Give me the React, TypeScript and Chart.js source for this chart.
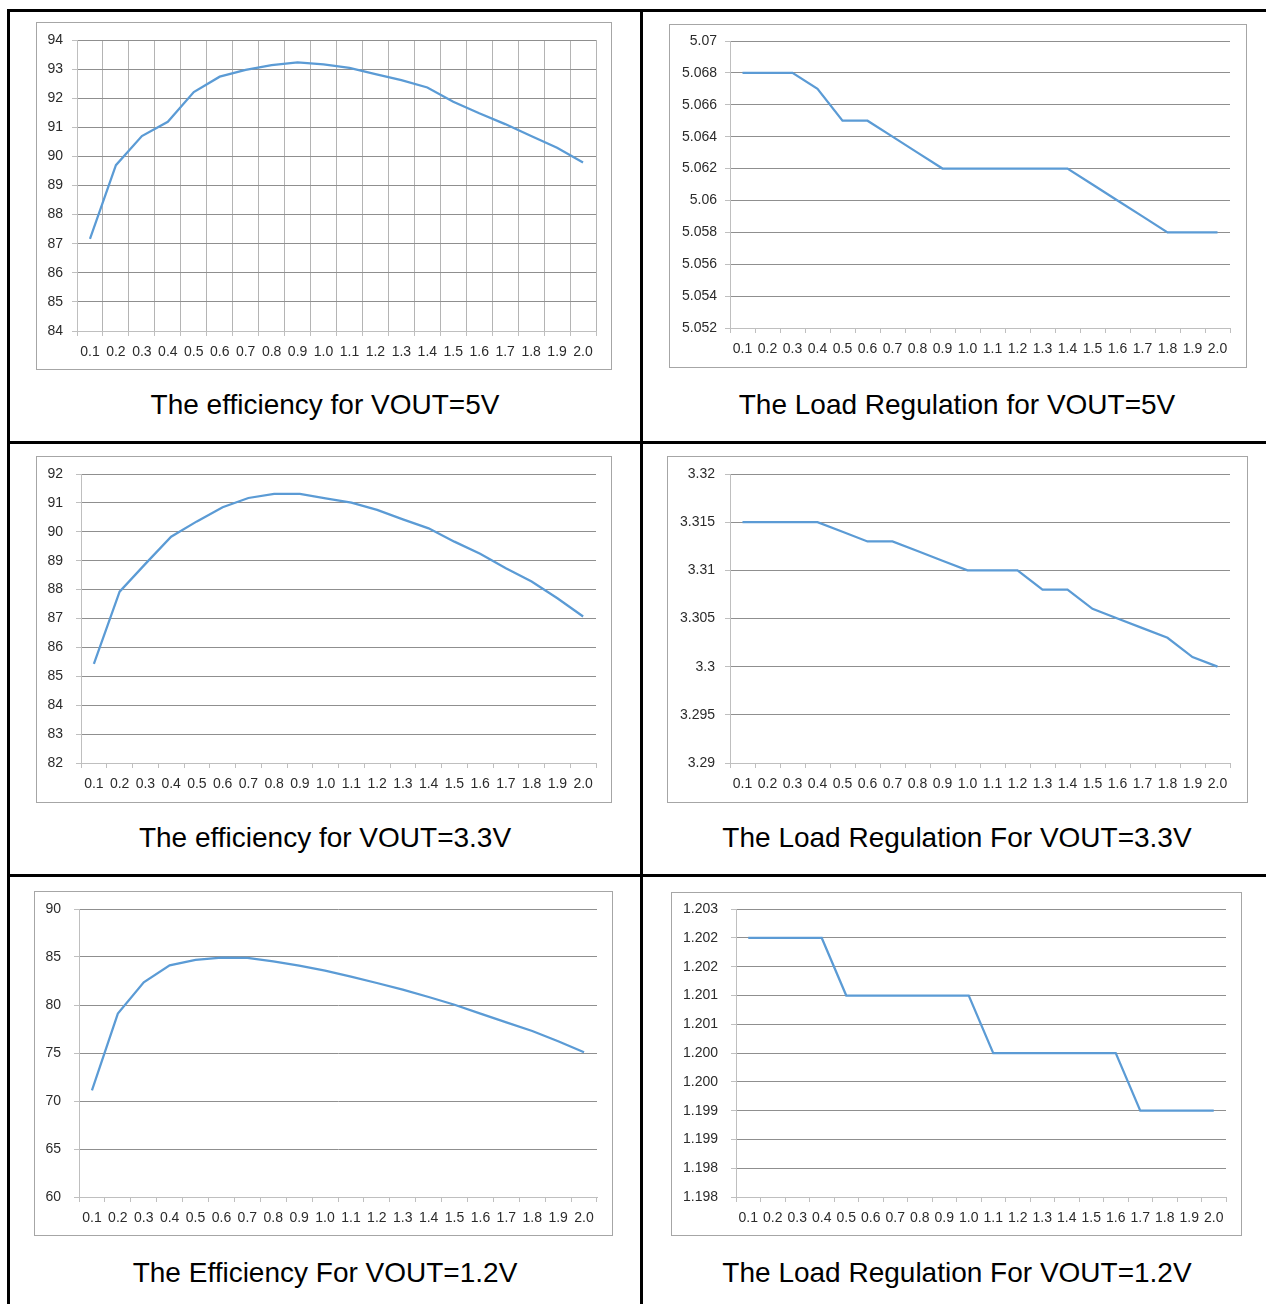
import React, { useEffect, useRef } from 'react';
import { Chart, registerables } from 'chart.js';

Chart.register(...registerables);

const categories = ['0.1', '0.2', '0.3', '0.4', '0.5', '0.6', '0.7', '0.8', '0.9', '1.0', '1.1', '1.2', '1.3', '1.4', '1.5', '1.6', '1.7', '1.8', '1.9', '2.0'];

const eff5V = [87.17, 89.7, 90.7, 91.19, 92.21, 92.74, 92.97, 93.14, 93.23, 93.16, 93.04, 92.83, 92.62, 92.37, 91.88, 91.48, 91.11, 90.7, 90.3, 89.79];
const reg5V = [5.068, 5.068, 5.068, 5.067, 5.065, 5.065, 5.064, 5.063, 5.062, 5.062, 5.062, 5.062, 5.062, 5.062, 5.061, 5.06, 5.059, 5.058, 5.058, 5.058];
const eff33V = [85.43, 87.93, 88.89, 89.83, 90.36, 90.85, 91.17, 91.31, 91.31, 91.16, 91.01, 90.76, 90.43, 90.12, 89.66, 89.24, 88.74, 88.28, 87.7, 87.07];
const reg33V = [3.315, 3.315, 3.315, 3.315, 3.314, 3.313, 3.313, 3.312, 3.311, 3.31, 3.31, 3.31, 3.308, 3.308, 3.306, 3.305, 3.304, 3.303, 3.301, 3.3];
const eff12V = [71.11, 79.1, 82.36, 84.13, 84.69, 84.93, 84.9, 84.55, 84.1, 83.58, 82.95, 82.29, 81.6, 80.83, 80.03, 79.1, 78.19, 77.29, 76.22, 75.07];
const reg12V = [1.2025, 1.2025, 1.2025, 1.2025, 1.2015, 1.2015, 1.2015, 1.2015, 1.2015, 1.2015, 1.2005, 1.2005, 1.2005, 1.2005, 1.2005, 1.2005, 1.1995, 1.1995, 1.1995, 1.1995];

const yTicksEff5V = ['84', '85', '86', '87', '88', '89', '90', '91', '92', '93', '94'];
const yTicksReg5V = ['5.052', '5.054', '5.056', '5.058', '5.06', '5.062', '5.064', '5.066', '5.068', '5.07'];
const yTicksEff33V = ['82', '83', '84', '85', '86', '87', '88', '89', '90', '91', '92'];
const yTicksReg33V = ['3.29', '3.295', '3.3', '3.305', '3.31', '3.315', '3.32'];
const yTicksEff12V = ['60', '65', '70', '75', '80', '85', '90'];
const yTicksReg12V = ['1.198', '1.198', '1.199', '1.199', '1.200', '1.200', '1.201', '1.201', '1.202', '1.202', '1.203'];

const titles = [
  'The efficiency for VOUT=5V',
  'The Load Regulation for VOUT=5V',
  'The efficiency for VOUT=3.3V',
  'The Load Regulation For VOUT=3.3V',
  'The Efficiency For VOUT=1.2V',
  'The Load Regulation For VOUT=1.2V',
];

type Box = { l: number; t: number; r: number; b: number };

interface PanelProps {
  frame: Box;
  plot: Box;
  values: number[];
  yMin: number;
  yMax: number;
  yStep: number;
  yLabels: string[];
  vGrid: boolean;
  yPad: number;
}

const LINE = '#5B9BD5';
const GRID = '#8f8f8f';
const AXIS = '#bfbfbf';
const FONT = "'Liberation Sans', Arial, sans-serif";
const XH = 30;

function Panel({ frame, plot, values, yMin, yMax, yStep, yLabels, vGrid, yPad }: PanelProps) {
  const ref = useRef<HTMLCanvasElement | null>(null);
  const w = frame.r - frame.l;
  const h = frame.b - frame.t;
  useEffect(() => {
    if (!ref.current) return;
    const yW = plot.l - frame.l;
    const chart = new Chart(ref.current, {
      type: 'line',
      data: {
        labels: categories,
        datasets: [
          {
            data: values,
            borderColor: LINE,
            borderWidth: 2.25,
            pointRadius: 0,
            tension: 0,
            fill: false,
          },
        ],
      },
      options: {
        animation: false,
        responsive: false,
        devicePixelRatio: 1,
        layout: {
          padding: {
            left: 0,
            top: plot.t - frame.t,
            right: frame.r - plot.r,
            bottom: frame.b - plot.b - XH,
          },
        },
        plugins: { legend: { display: false }, tooltip: { enabled: false }, title: { display: false } },
        scales: {
          x: {
            type: 'category',
            offset: true,
            afterFit: (s: any) => {
              s.height = XH;
            },
            grid: {
              display: true,
              offset: true,
              drawOnChartArea: vGrid,
              drawTicks: true,
              tickLength: 5,
              color: vGrid ? '#b4b4b4' : AXIS,
              tickColor: AXIS,
            },
            border: { color: AXIS },
            ticks: {
              autoSkip: false,
              maxRotation: 0,
              minRotation: 0,
              padding: 8,
              color: '#2b2b2b',
              font: { family: FONT, size: 14 },
            },
          },
          y: {
            min: yMin,
            max: yMax,
            afterFit: (s: any) => {
              s.width = yW;
            },
            grid: {
              color: GRID,
              tickColor: AXIS,
              tickLength: 5,
              drawTicks: true,
              z: -1,
            },
            border: { color: AXIS },
            ticks: {
              stepSize: yStep,
              autoSkip: false,
              padding: yPad,
              color: '#2b2b2b',
              font: { family: FONT, size: 14, lineHeight: 0.6 },
              callback: (v: any, i: number) => (yLabels[i] !== undefined ? yLabels[i] : String(v)),
            },
          },
        },
      },
    } as any);
    return () => chart.destroy();
  }, []);
  return (
    <>
      <div
        style={{
          position: 'absolute',
          left: frame.l,
          top: frame.t,
          width: w,
          height: h,
          border: '1px solid #a6a6a6',
          boxSizing: 'border-box',
          background: '#fff',
        }}
      />
      <canvas
        ref={ref}
        width={w}
        height={h}
        style={{ position: 'absolute', left: frame.l, top: frame.t, width: w, height: h }}
      />
    </>
  );
}

function Title({ text, left, width, top }: { text: string; left: number; width: number; top: number }) {
  return (
    <div
      style={{
        position: 'absolute',
        left,
        top,
        width,
        height: 32,
        lineHeight: '32px',
        textAlign: 'center',
        fontFamily: FONT,
        fontSize: 28,
        color: '#000',
        whiteSpace: 'nowrap',
      }}
    >
      {text}
    </div>
  );
}

function Rule({ l, t, w, h }: { l: number; t: number; w: number; h: number }) {
  return <div style={{ position: 'absolute', left: l, top: t, width: w, height: h, background: '#000' }} />;
}

export default function App() {
  return (
    <div style={{ position: 'absolute', left: 0, top: 0, width: 1266, height: 1304, overflow: 'hidden', background: '#fff' }}>
      <Rule l={7} t={9} w={1259} h={3} />
      <Rule l={7} t={9} w={3} h={1295} />
      <Rule l={640} t={9} w={3} h={1295} />
      <Rule l={7} t={441} w={1259} h={3} />
      <Rule l={7} t={874} w={1259} h={3} />

      <Panel frame={{ l: 36, t: 22, r: 612, b: 370 }} plot={{ l: 77, t: 40, r: 596, b: 331 }} values={eff5V} yMin={84} yMax={94} yStep={1} yLabels={yTicksEff5V} vGrid={true} yPad={9} />
      <Panel frame={{ l: 669, t: 24, r: 1247, b: 368 }} plot={{ l: 730, t: 41, r: 1230, b: 328 }} values={reg5V} yMin={5.052} yMax={5.07} yStep={0.002} yLabels={yTicksReg5V} vGrid={false} yPad={8} />
      <Panel frame={{ l: 36, t: 456, r: 612, b: 803 }} plot={{ l: 81, t: 474, r: 596, b: 763 }} values={eff33V} yMin={82} yMax={92} yStep={1} yLabels={yTicksEff33V} vGrid={false} yPad={13} />
      <Panel frame={{ l: 667, t: 456, r: 1248, b: 803 }} plot={{ l: 730, t: 474, r: 1230, b: 763 }} values={reg33V} yMin={3.29} yMax={3.32} yStep={0.005} yLabels={yTicksReg33V} vGrid={false} yPad={10} />
      <Panel frame={{ l: 34, t: 891, r: 613, b: 1236 }} plot={{ l: 79, t: 909, r: 597, b: 1197 }} values={eff12V} yMin={60} yMax={90} yStep={5} yLabels={yTicksEff12V} vGrid={false} yPad={13} />
      <Panel frame={{ l: 671, t: 892, r: 1242, b: 1236 }} plot={{ l: 736, t: 909, r: 1226, b: 1197 }} values={reg12V} yMin={1.198} yMax={1.203} yStep={0.0005} yLabels={yTicksReg12V} vGrid={false} yPad={13} />

      <Title text={titles[0]} left={10} width={630} top={389} />
      <Title text={titles[1]} left={643} width={628} top={389} />
      <Title text={titles[2]} left={10} width={630} top={822} />
      <Title text={titles[3]} left={643} width={628} top={822} />
      <Title text={titles[4]} left={10} width={630} top={1257} />
      <Title text={titles[5]} left={643} width={628} top={1257} />
    </div>
  );
}
